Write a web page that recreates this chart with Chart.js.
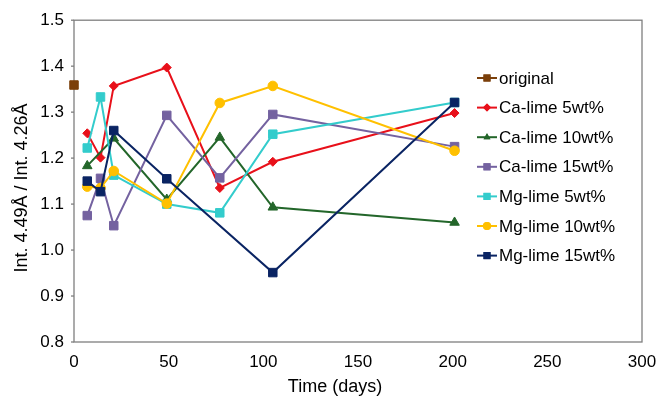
<!DOCTYPE html>
<html>
<head>
<meta charset="utf-8">
<script src="https://cdn.jsdelivr.net/npm/chart.js@4"></script>
<style>
  html, body { margin: 0; padding: 0; background: #fff; }
  #wrap { width: 661px; height: 400px; }
</style>
</head>
<body>
<div id="wrap"><canvas id="limeChart" width="661" height="400"></canvas></div>
<script>
// data
const originalDays = [0];
const originalVals = [1.359];

const days = [7, 14, 21, 49, 77, 105, 201];
const caLime5  = [1.254, 1.201, 1.357, 1.397, 1.135, 1.192, 1.298];
const caLime10 = [1.183, null, 1.243, 1.110, 1.245, 1.093, 1.060];
const caLime15 = [1.075, 1.156, 1.053, 1.293, 1.157, 1.295, 1.225];
const mgLime5  = [1.222, 1.333, 1.163, 1.100, 1.081, 1.252, 1.321];
const mgLime10 = [1.138, 1.135, 1.172, 1.101, 1.320, 1.357, 1.216];
const mgLime15 = [1.150, 1.127, 1.260, 1.155, null, 0.951, 1.321];

const seriesNames = ['original', 'Ca-lime 5wt%', 'Ca-lime 10wt%', 'Ca-lime 15wt%',
  'Mg-lime 5wt%', 'Mg-lime 10wt%', 'Mg-lime 15wt%'];
const seriesColors = ['#7b3f0a', '#e8101a', '#23662a', '#7462a0', '#33cccc', '#ffc000', '#0a2463'];
const seriesMarkers = ['rect', 'rectRot', 'triangle', 'rect', 'rect', 'circle', 'rect'];
const markerSizes = [6, 4.5, 5.5, 6, 6, 4.8, 6];

const yTicks = [0.8, 0.9, 1.0, 1.1, 1.2, 1.3, 1.4, 1.5];
const xTicks = [0, 50, 100, 150, 200, 250, 300];

const xTitle = 'Time (days)';
const yTitle = 'Int. 4.49Å / Int. 4.26Å';

const FONT = 'Arial, "Liberation Sans", sans-serif';

function toPoints(xs, ys) {
  return xs.map((x, i) => ({ x: x, y: ys[i] }));
}

const allValues = [originalVals, caLime5, caLime10, caLime15, mgLime5, mgLime10, mgLime15];

const datasets = allValues.map((vals, i) => ({
  label: seriesNames[i],
  data: i === 0 ? toPoints(originalDays, vals) : toPoints(days, vals),
  borderColor: seriesColors[i],
  backgroundColor: seriesColors[i],
  borderWidth: 2,
  pointStyle: seriesMarkers[i],
  pointRadius: markerSizes[i],
  pointHoverRadius: markerSizes[i],
  pointBorderWidth: 1,
  spanGaps: true,
  tension: 0,
  clip: false,
  order: 6 - i
}));

// box round the plot area, axis titles and legend inside the box
const framePlugin = {
  id: 'frameAndLegend',
  beforeDatasetsDraw(chart) {
    const a = chart.chartArea;
    const ctx = chart.ctx;
    ctx.save();
    ctx.strokeStyle = '#7f7f7f';
    ctx.lineWidth = 1.3;
    ctx.strokeRect(a.left, a.top, a.right - a.left, a.bottom - a.top);
    yTicks.forEach(v => {
      const y = chart.scales.y.getPixelForValue(v);
      ctx.beginPath();
      ctx.moveTo(a.left - 3, y);
      ctx.lineTo(a.left, y);
      ctx.stroke();
    });

    ctx.fillStyle = '#000';
    ctx.font = '18px ' + FONT;
    ctx.textAlign = 'center';
    ctx.textBaseline = 'alphabetic';
    ctx.fillText(xTitle, 335, 392);

    ctx.translate(27, 188);
    ctx.rotate(-Math.PI / 2);
    ctx.fillText(yTitle, 0, 0);
    ctx.restore();
  },
  afterDraw(chart) {
    const ctx = chart.ctx;
    ctx.save();
    const x0 = 477, x1 = 497, textX = 499;
    let y = 78;
    const step = 29.6;
    seriesNames.forEach((name, i) => {
      ctx.strokeStyle = seriesColors[i];
      ctx.lineWidth = 2;
      ctx.beginPath();
      ctx.moveTo(x0, y);
      ctx.lineTo(x1, y);
      ctx.stroke();
      ctx.fillStyle = seriesColors[i];
      Chart.helpers.drawPoint(ctx, {
        pointStyle: seriesMarkers[i],
        radius: seriesMarkers[i] === 'rect' ? 5 : 4,
        borderWidth: 0,
        rotation: 0
      }, (x0 + x1) / 2, y);
      ctx.fill();
      ctx.fillStyle = '#000';
      ctx.font = '17px ' + FONT;
      ctx.textBaseline = 'middle';
      ctx.textAlign = 'left';
      ctx.fillText(name, textX, y + 1);
      y += step;
    });
    ctx.restore();
  }
};

const ctx = document.getElementById('limeChart').getContext('2d');
const limeChart = new Chart(ctx, {
  type: 'line',
  data: { datasets: datasets },
  options: {
    responsive: false,
    animation: false,
    layout: { padding: { left: 0, right: 19, top: 20, bottom: 0 } },
    plugins: {
      legend: { display: false },
      tooltip: { enabled: false }
    },
    scales: {
      x: {
        type: 'linear',
        min: 0,
        max: 300,
        afterBuildTicks: axis => { axis.ticks = xTicks.map(v => ({ value: v })); },
        afterFit: axis => {
          axis.height = 58;
          axis.paddingLeft = 0;
          axis.paddingRight = 0;
        },
        grid: { display: false, drawTicks: false },
        border: { display: false },
        ticks: { color: '#000', padding: 10, maxRotation: 0, font: { size: 17, family: FONT } }
      },
      y: {
        min: 0.8,
        max: 1.5,
        afterBuildTicks: axis => { axis.ticks = yTicks.map(v => ({ value: v })); },
        afterFit: axis => { axis.width = 74; },
        grid: { display: false, drawTicks: false },
        border: { display: false },
        ticks: {
          color: '#000',
          padding: 10,
          font: { size: 17, family: FONT },
          callback: v => v.toFixed(1)
        }
      }
    }
  },
  plugins: [framePlugin]
});
</script>
</body>
</html>
